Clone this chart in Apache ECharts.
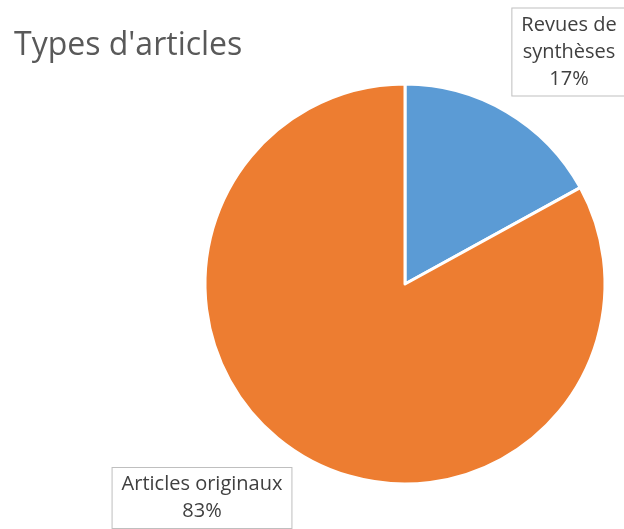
<!DOCTYPE html>
<html><head><meta charset="utf-8">
<script src="https://cdn.jsdelivr.net/npm/echarts@6/dist/echarts.min.js"></script>
<style>html,body{margin:0;padding:0;background:#fff}#c{width:624px;height:529px}</style>
</head><body><div id="c"></div>
<script>
const categories = ["Revues de\nsynthèses", "Articles originaux"];
const values = [17, 83];
const colors = ["#5B9BD5", "#ED7D31"];
const labelPos = [
  {x: 569, y: 52},
  {x: 202, y: 498}
];
const chart = echarts.init(document.getElementById('c'));
chart.setOption({
  animation: false,
  title: {text: "Types d'articles", left: 9, top: 25, textStyle: {fontFamily: 'Open Sans', fontSize: 32, fontWeight: 'normal', color: '#595959'}},
  series: [{
    type: 'pie',
    center: [405, 284],
    radius: 200,
    startAngle: 90,
    clockwise: true,
    data: categories.map((c, i) => ({name: c, value: values[i], itemStyle: {color: colors[i]}})),
    itemStyle: {borderColor: '#fff', borderWidth: 3},
    label: {
      show: true,
      position: 'inside',
      formatter: p => p.name + '\n' + p.value + '%',
      fontFamily: 'Open Sans', fontSize: 20, lineHeight: 27, color: '#404040',
      backgroundColor: '#fff', borderColor: '#bfbfbf', borderWidth: 1,
      padding: [3, 9, 3, 9], align: 'center'
    },
    labelLine: {show: false},
    labelLayout: p => ({x: labelPos[p.dataIndex].x, y: labelPos[p.dataIndex].y, align: 'center', verticalAlign: 'middle'})
  }]
});
</script></body></html>
